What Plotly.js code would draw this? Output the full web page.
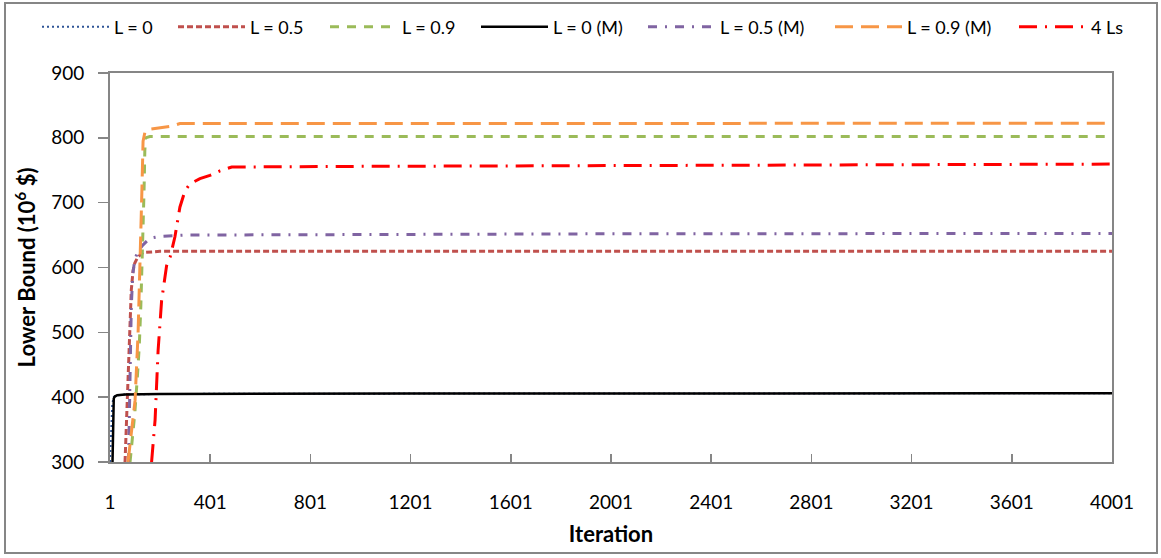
<!DOCTYPE html>
<html>
<head>
<meta charset="utf-8">
<script src="https://cdn.plot.ly/plotly-3.0.1.min.js"></script>
<style>
html,body{margin:0;padding:0;background:#fff;}
#chart{width:1161px;height:558px;}
</style>
</head>
<body>
<div id="chart"></div>
<script>
// ---- data ----
var seriesNames = ["L = 0", "L = 0.5", "L = 0.9", "L = 0 (M)", "L = 0.5 (M)", "L = 0.9 (M)", "4 Ls"];

var iterL0   = [1, 6, 10, 16, 30, 60, 200, 1200, 4001];
var valL0    = [300, 360, 390, 400, 403, 404, 405, 405.5, 406];

var iterL05  = [61, 65, 68, 72, 76, 81, 86, 93, 100, 112, 133, 200, 1000, 4001];
var valL05   = [300, 340, 370, 420, 470, 523, 565, 595, 607, 616, 623, 625, 625, 625];

var iterL09  = [81, 90, 100, 110, 118, 124, 128, 133, 137, 140, 143, 160, 1000, 4001];
var valL09   = [300, 335, 375, 430, 480, 540, 590, 650, 720, 780, 800, 802, 802, 802];

var iterL0M  = [11, 12, 13, 14, 16, 20, 30, 60, 200, 1200, 4001];
var valL0M   = [300, 347, 350, 390, 398, 401, 403, 404, 405, 405.5, 406];

var iterL05M = [75, 79, 82, 86, 92, 100, 112, 133, 160, 200, 300, 1000, 2000, 4001];
var valL05M  = [300, 400, 470, 540, 590, 612, 625, 635, 645, 648, 650, 651, 652, 652.5];

var iterL09M = [73, 88, 101, 113, 121, 128, 133, 140, 153, 200, 248, 280, 1000, 4001];
var valL09M  = [300, 350, 395, 498, 600, 713, 795, 808, 813, 815, 818, 822, 822, 822.5];

var iter4Ls  = [167, 181, 193, 207, 227, 241, 260, 280, 300, 320, 360, 400, 440, 487, 1000, 2000, 3000, 4001];
var val4Ls   = [300, 365, 472, 549, 603, 616, 647, 693, 718, 729, 737, 742, 749, 755, 756, 757, 758, 759.5];

var xTickVals = [1, 401, 801, 1201, 1601, 2001, 2401, 2801, 3201, 3601, 4001];
var xTickText = ["1", "401", "801", "1201", "1601", "2001", "2401", "2801", "3201", "3601", "4001"];
var yTickVals = [300, 400, 500, 600, 700, 800, 900];

// ---- styles ----
var FONT = "Lato, 'Open Sans', sans-serif";
var W = 1161, H = 558;
var legendLeft = [42, 178, 330, 481, 648, 835, 1019]; // px where each legend sample starts
var legendIds = ["legend", "legend2", "legend3", "legend4", "legend5", "legend6", "legend7"];

function tr(i, x, y, color, dash, width) {
  return {type: "scatter", mode: "lines", name: seriesNames[i], x: x, y: y,
          legend: legendIds[i],
          line: {color: color, dash: dash, width: width}, hoverinfo: "skip"};
}
var data = [
  tr(0, iterL0,   valL0,   "#2F5597", "2px,3px", 2),
  tr(1, iterL05,  valL05,  "#C0504D", "6px,3px", 3),
  tr(2, iterL09,  valL09,  "#9BBB59", "9px,8px", 3),
  tr(3, iterL0M,  valL0M,  "#000000", "solid", 2.5),
  tr(4, iterL05M, valL05M, "#8064A2", "9px,8px,2px,8px", 3),
  tr(5, iterL09M, valL09M, "#F79646", "18px,8px", 3),
  tr(6, iter4Ls,  val4Ls,  "#FF0000", "18px,8px,2px,8px", 3)
];

var layout = {
  width: W, height: H,
  margin: {l: 110, r: 49, t: 73, b: 96},
  paper_bgcolor: "#ffffff", plot_bgcolor: "#ffffff",
  font: {family: FONT, size: 19, color: "#000"},
  showlegend: true,
  xaxis: {range: [1, 4001], tickmode: "array", tickvals: xTickVals, ticktext: xTickText,
          ticks: "inside", ticklen: 8, tickwidth: 1.5, tickcolor: "#868686",
          showline: true, linecolor: "#868686", linewidth: 2, mirror: true,
          showgrid: false, zeroline: false, ticklabelstandoff: 22,
          tickfont: {family: FONT, size: 19},
          title: {text: "Iteration", font: {family: FONT, size: 22, weight: "bold"}, standoff: 15}},
  yaxis: {range: [300, 900], tickmode: "array", tickvals: yTickVals,
          ticks: "outside", ticklen: 10, tickwidth: 1.5, tickcolor: "#868686",
          showline: true, linecolor: "#868686", linewidth: 2, mirror: true,
          showgrid: false, zeroline: false, ticklabelstandoff: 10,
          tickfont: {family: FONT, size: 19},
          title: {text: "Lower Bound (10<sup>6</sup> $)", font: {family: FONT, size: 22, weight: "bold"}, standoff: 9}},
  shapes: [{type: "rect", xref: "paper", yref: "paper",
            x0: -105/1002, x1: 1 + 45/1002, y0: -91/389, y1: 1 + 70/389,
            line: {color: "#868686", width: 2}, fillcolor: "rgba(0,0,0,0)", layer: "below"}]
};

for (var i = 0; i < legendIds.length; i++) {
  layout[legendIds[i]] = {
    orientation: "h", xref: "container", yref: "container",
    x: (legendLeft[i] - 5) / W, xanchor: "left",
    y: 1 - 27 / H, yanchor: "middle",
    font: {family: FONT, size: 18, color: "#000"},
    itemwidth: 67, bgcolor: "rgba(0,0,0,0)", borderwidth: 0
  };
}

Plotly.newPlot("chart", data, layout, {displayModeBar: false, staticPlot: true});
</script>
</body>
</html>
